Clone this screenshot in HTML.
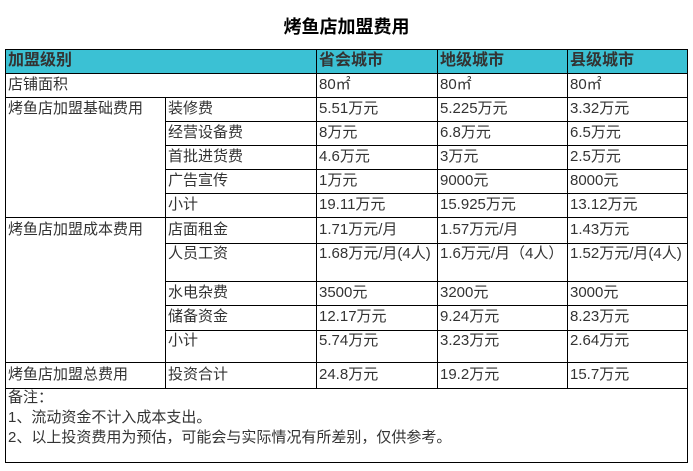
<!DOCTYPE html>
<html><head><meta charset="utf-8">
<style>
html,body{margin:0;padding:0;background:#fff;}
body{width:693px;height:471px;position:relative;overflow:hidden;font-family:"Liberation Sans","Noto Sans CJK SC",sans-serif;}
.h{position:absolute;height:1px;background:#000;}
.v{position:absolute;width:1px;background:#000;}
.t{position:absolute;font-size:15px;line-height:22px;color:#333;white-space:nowrap;}
.hd{position:absolute;font-size:16px;line-height:24px;color:#333;font-weight:bold;white-space:nowrap;}
.n{position:absolute;font-size:15px;line-height:20px;color:#333;white-space:nowrap;left:8px;}
</style></head><body>
<div style="position:absolute;left:0;width:693px;top:15px;text-align:center;font-size:18px;font-weight:bold;line-height:24px;color:#000;padding-left:0;">
<span style="position:relative;left:0px;">烤鱼店加盟费用</span></div>

<div style="position:absolute;left:5px;top:49px;width:682px;height:24px;background:#3BC1D4;"></div>

<!-- horizontal lines -->
<div class="h" style="left:5px;width:683px;top:49px;"></div>
<div class="h" style="left:5px;width:683px;top:73px;"></div>
<div class="h" style="left:5px;width:683px;top:97px;"></div>
<div class="h" style="left:165px;width:523px;top:121px;"></div>
<div class="h" style="left:165px;width:523px;top:145px;"></div>
<div class="h" style="left:165px;width:523px;top:169px;"></div>
<div class="h" style="left:165px;width:523px;top:193px;"></div>
<div class="h" style="left:5px;width:683px;top:217px;"></div>
<div class="h" style="left:165px;width:523px;top:243px;"></div>
<div class="h" style="left:165px;width:523px;top:281px;"></div>
<div class="h" style="left:165px;width:523px;top:305px;"></div>
<div class="h" style="left:165px;width:523px;top:330px;"></div>
<div class="h" style="left:5px;width:683px;top:362px;"></div>
<div class="h" style="left:5px;width:683px;top:388px;"></div>
<div class="h" style="left:5px;width:683px;top:462px;"></div>

<!-- vertical lines -->
<div class="v" style="left:5px;top:49px;height:414px;"></div>
<div class="v" style="left:687px;top:49px;height:414px;"></div>
<div class="v" style="left:165px;top:97px;height:291px;"></div>
<div class="v" style="left:316px;top:49px;height:339px;"></div>
<div class="v" style="left:437px;top:49px;height:339px;"></div>
<div class="v" style="left:567px;top:49px;height:339px;"></div>

<!-- header -->
<div class="hd" style="left:8px;top:49px;">加盟级别</div>
<div class="hd" style="left:319px;top:49px;">省会城市</div>
<div class="hd" style="left:440px;top:49px;">地级城市</div>
<div class="hd" style="left:570px;top:49px;">县级城市</div>

<!-- rows -->
<div class="t" style="left:8px;top:74px;">店铺面积</div>
<div class="t" style="left:319px;top:74px;">80㎡</div>
<div class="t" style="left:440px;top:74px;">80㎡</div>
<div class="t" style="left:570px;top:74px;">80㎡</div>

<div class="t" style="left:8px;top:98px;">烤鱼店加盟基础费用</div>
<div class="t" style="left:168px;top:98px;">装修费</div>
<div class="t" style="left:319px;top:98px;">5.51万元</div>
<div class="t" style="left:440px;top:98px;">5.225万元</div>
<div class="t" style="left:570px;top:98px;">3.32万元</div>

<div class="t" style="left:168px;top:122px;">经营设备费</div>
<div class="t" style="left:319px;top:122px;">8万元</div>
<div class="t" style="left:440px;top:122px;">6.8万元</div>
<div class="t" style="left:570px;top:122px;">6.5万元</div>

<div class="t" style="left:168px;top:146px;">首批进货费</div>
<div class="t" style="left:319px;top:146px;">4.6万元</div>
<div class="t" style="left:440px;top:146px;">3万元</div>
<div class="t" style="left:570px;top:146px;">2.5万元</div>

<div class="t" style="left:168px;top:170px;">广告宣传</div>
<div class="t" style="left:319px;top:170px;">1万元</div>
<div class="t" style="left:440px;top:170px;">9000元</div>
<div class="t" style="left:570px;top:170px;">8000元</div>

<div class="t" style="left:168px;top:194px;">小计</div>
<div class="t" style="left:319px;top:194px;">19.11万元</div>
<div class="t" style="left:440px;top:194px;">15.925万元</div>
<div class="t" style="left:570px;top:194px;">13.12万元</div>

<div class="t" style="left:8px;top:219px;">烤鱼店加盟成本费用</div>
<div class="t" style="left:168px;top:219px;">店面租金</div>
<div class="t" style="left:319px;top:219px;">1.71万元/月</div>
<div class="t" style="left:440px;top:219px;">1.57万元/月</div>
<div class="t" style="left:570px;top:219px;">1.43万元</div>

<div class="t" style="left:168px;top:243px;">人员工资</div>
<div class="t" style="left:319px;top:243px;">1.68万元/月(4人)</div>
<div class="t" style="left:440px;top:243px;">1.6万元/月（4人）</div>
<div class="t" style="left:570px;top:243px;">1.52万元/月(4人)</div>

<div class="t" style="left:168px;top:282px;">水电杂费</div>
<div class="t" style="left:319px;top:282px;">3500元</div>
<div class="t" style="left:440px;top:282px;">3200元</div>
<div class="t" style="left:570px;top:282px;">3000元</div>

<div class="t" style="left:168px;top:306px;">储备资金</div>
<div class="t" style="left:319px;top:306px;">12.17万元</div>
<div class="t" style="left:440px;top:306px;">9.24万元</div>
<div class="t" style="left:570px;top:306px;">8.23万元</div>

<div class="t" style="left:168px;top:330px;">小计</div>
<div class="t" style="left:319px;top:330px;">5.74万元</div>
<div class="t" style="left:440px;top:330px;">3.23万元</div>
<div class="t" style="left:570px;top:330px;">2.64万元</div>

<div class="t" style="left:8px;top:364px;">烤鱼店加盟总费用</div>
<div class="t" style="left:168px;top:364px;">投资合计</div>
<div class="t" style="left:319px;top:364px;">24.8万元</div>
<div class="t" style="left:440px;top:364px;">19.2万元</div>
<div class="t" style="left:570px;top:364px;">15.7万元</div>

<div class="n" style="top:388px;">备注：</div>
<div class="n" style="top:408px;">1、流动资金不计入成本支出。</div>
<div class="n" style="top:428px;">2、以上投资费用为预估，可能会与实际情况有所差别，仅供参考。</div>
</body></html>
